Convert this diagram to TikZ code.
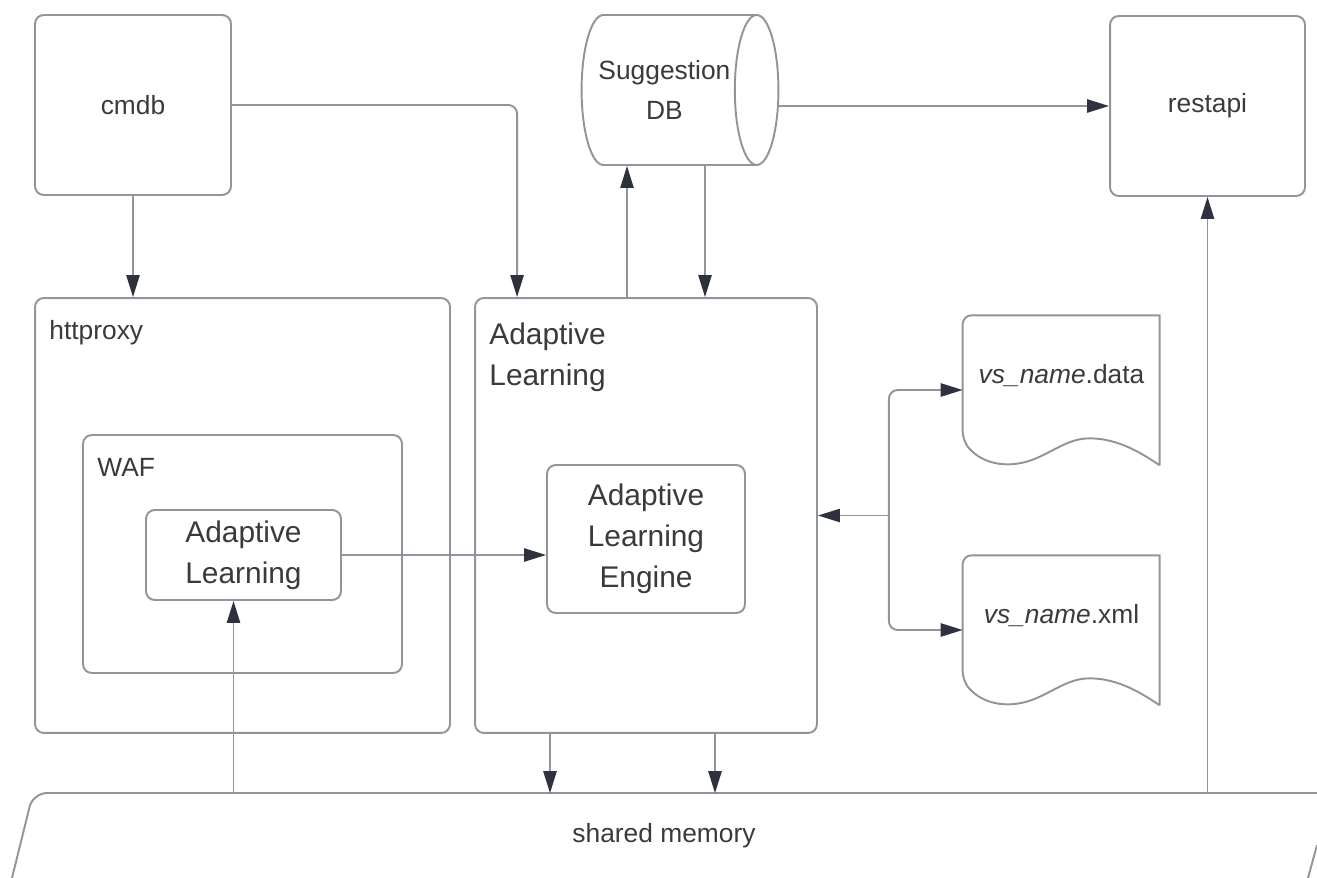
\documentclass[tikz,border=0pt]{standalone}
\usepackage{fontspec}
\setmainfont{Liberation Sans}
\usetikzlibrary{positioning,calc,shapes.geometric,arrows.meta}
\definecolor{linegray}{RGB}{145,148,155}
\definecolor{tipgray}{RGB}{45,50,62}
\definecolor{textgray}{RGB}{58,58,62}
\tikzset{
	box/.style={draw=linegray,line width=1.1pt,rounded corners=5pt,inner sep=0pt},
	outline/.style={draw=linegray,line width=1.1pt},
	txt/.style={text=textgray,font=\fontsize{15}{22.5}\selectfont,align=center},
	bigtxt/.style={text=textgray,font=\fontsize{17}{23.3}\selectfont,align=center},
	conn/.style={draw=linegray,line width=1.1pt,rounded corners=5pt,-{Triangle[width=7.5pt,length=12.5pt,color=tipgray]}},
	docbox/.style={inner sep=0pt,minimum width=3.94cm,minimum height=3cm}
}
\begin{document}
\begin{tikzpicture}[x=0.02cm,y=-0.02cm]
	\useasboundingbox (0,0) rectangle (1317,878);
	
	% top row
	\node[box,txt,minimum width=3.92cm,minimum height=3.6cm] (cmdb) at (133,105) {cmdb};
	\node[box,txt,minimum width=3.9cm,minimum height=3.6cm] (restapi) at (1207.5,106) {restapi};
	\node[cylinder,outline,txt,shape aspect=0.62,inner xsep=2pt,minimum width=3cm,minimum height=3.6cm,anchor=shape center] (sugdb) at (680,90) {Suggestion\\DB};
	
	% httproxy side
	\node[box,minimum width=8.3cm,minimum height=8.7cm] (httproxy) at (242.5,515.5) {};
	\node[txt,anchor=base west,inner sep=0pt] (httlbl) at ($(httproxy.north west)+(15,42)$) {httproxy};
	\node[box,minimum width=6.38cm,minimum height=4.76cm] (waf) at (242.5,554) {};
	\node[txt,anchor=base west,inner sep=0pt] (waflbl) at ($(waf.north west)+(15,42)$) {WAF};
	\node[box,bigtxt,minimum width=3.9cm,minimum height=1.8cm] (ial) at (243.5,555) {Adaptive\\Learning};
	
	% adaptive learning side
	\node[box,minimum width=6.84cm,minimum height=8.7cm] (al) at (646,515.5) {};
	\node[bigtxt,align=left,anchor=north west,inner sep=0pt] (allbl) at ($(al.north west)+(15,25)$) {Adaptive\\Learning};
	\node[box,bigtxt,minimum width=3.96cm,minimum height=2.96cm] (eng) at (646,539) {Adaptive\\Learning\\Engine};
	
	% files
	\node[docbox] (data) at (1061.5,390) {};
	\node[txt] (datalbl) at ($(data.center)+(0,-14)$) {\textit{vs\_name}.data};
	\node[docbox] (xml) at (1061.5,630) {};
	\node[txt] (xmllbl) at ($(xml.center)+(0,-14)$) {\textit{vs\_name}.xml};
	\foreach \d in {data,xml}{
		\begin{scope}[shift={(\d.south west)}]
			\draw[outline] (197,0) -- (197,-150) [rounded corners=5pt] -- (0,-150) -- (0,-25) [sharp corners]
				.. controls (12,-10) and (25,-1) .. (45,-1)
				.. controls (80,-1) and (97,-27) .. (127,-27)
				.. controls (157,-27) and (182,-10) .. (197,0);
		\end{scope}
	}
	
	% shared memory
	\node[txt,minimum width=26cm,minimum height=1.68cm,inner sep=0pt] (shm) at (664,835.5) {shared memory};
	\draw[outline] (1317,793) [rounded corners=8pt] -- (33,793) -- (12,878);
	\draw[outline] (1317,845) -- (1308,878);
	
	% connectors
	\coordinate (alin) at ($(al.north west)+(43,0)$);
	\coordinate (alup) at ($(al.north)+(-19,0)$);
	\coordinate (aldown) at ($(al.north)+(59,0)$);
	\coordinate (alout1) at ($(al.south)+(-96,0)$);
	\coordinate (alout2) at ($(al.south)+(69,0)$);
	\coordinate (ialin) at ($(ial.south)+(-10,0)$);
	\coordinate (split) at ($(al.east)+(71,0)$);
	
	\draw[conn] (cmdb.south) -- (cmdb.south |- httproxy.north);
	\draw[conn] (cmdb.east) -| (alin);
	\draw[conn] (alup) -- (alup |- sugdb.south);
	\draw[conn] (aldown |- sugdb.south) -- (aldown);
	\draw[conn] (sugdb.east |- restapi.west) -- (restapi.west);
	\draw[conn] (ial.east) -- (ial.east -| eng.west);
	\draw[conn] (ialin |- shm.north) -- (ialin);
	\foreach \c in {alout1,alout2}
		\draw[conn] (\c) -- (\c |- shm.north);
	\draw[conn] (restapi.south |- shm.north) -- (restapi.south);
	\draw[conn] (split) -- (al.east);
	\draw[conn] (split) |- (data.west);
	\draw[conn] (split) |- (xml.west);
	
\end{tikzpicture}
\end{document}
